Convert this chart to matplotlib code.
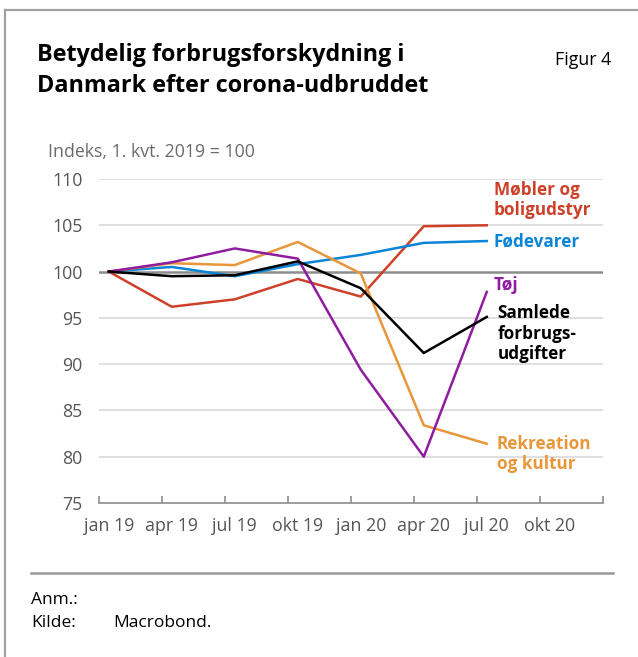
import matplotlib.pyplot as plt
from matplotlib.lines import Line2D

plt.rcParams["font.family"] = ["Open Sans", "DejaVu Sans"]

QUARTERS = ["jan 19", "apr 19", "jul 19", "okt 19", "jan 20", "apr 20", "jul 20", "okt 20"]

moebler = [100, 96.2, 97.0, 99.2, 97.3, 104.9, 105.0]
foedevarer = [100, 100.5, 99.5, 100.8, 101.8, 103.1, 103.3]
toej = [100, 101.0, 102.5, 101.4, 89.4, 80.0, 97.8]
rekreation = [100, 100.9, 100.7, 103.2, 99.8, 83.4, 81.4]
samlede = [100, 99.5, 99.6, 101.1, 98.2, 91.2, 95.1]

RED = "#cc4128"
BLUE = "#0a84d6"
PURPLE = "#8f1d9f"
ORANGE = "#e8963a"
BLACK = "#000000"

W, H = 638, 657
fig = plt.figure(figsize=(W / 100, H / 100), dpi=100)

# frame (left and top only)
fig.add_artist(Line2D([5 / W, 5 / W], [0, 1 - 10 / H], color="#a0a0a0", lw=1.6))
fig.add_artist(Line2D([5 / W, 1], [1 - 10 / H, 1 - 10 / H], color="#a0a0a0", lw=1.6))

fig.text(37 / W, 1 - 61 / H, "Betydelig forbrugsforskydning i", fontsize=16.8,
         fontweight="bold", va="baseline")
fig.text(37 / W, 1 - 92 / H, "Danmark efter corona-udbruddet", fontsize=16.8,
         fontweight="bold", va="baseline")
fig.text(555 / W, 1 - 65 / H, "Figur 4", fontsize=12.8, va="baseline")
fig.text(48 / W, 1 - 157 / H, "Indeks, 1. kvt. 2019 = 100", fontsize=12.8, color="#6b6b6b",
         va="baseline")

ax = fig.add_axes([99 / W, 1 - 503 / H, 504 / W, 324 / H])
x = list(range(len(moebler)))
off = 0.155

for yv in [80, 85, 90, 95, 105, 110]:
    ax.axhline(yv, color="#d9d9d9", lw=1.2, zorder=1)
ax.axhline(100, color="#8c8c8c", lw=1.8, zorder=1)

ax.plot(x, moebler, color=RED, lw=1.8, zorder=3)
ax.plot(x, foedevarer, color=BLUE, lw=1.8, zorder=3)
ax.plot(x, rekreation, color=ORANGE, lw=1.8, zorder=3)
ax.plot(x, toej, color=PURPLE, lw=1.8, zorder=3)
ax.plot(x, samlede, color=BLACK, lw=1.8, zorder=4)

ax.set_xlim(-off, len(QUARTERS) - off)
ax.set_ylim(75, 110)
ax.set_yticks([75, 80, 85, 90, 95, 100, 105, 110])
ax.tick_params(axis="y", length=0, pad=12, labelsize=12.8, labelcolor="#555555")

ax.set_xticks([k - off for k in range(len(QUARTERS) + 1)])
ax.set_xticklabels([])
ax.set_xticks(range(len(QUARTERS)), minor=True)
ax.set_xticklabels(QUARTERS, minor=True)
ax.tick_params(axis="x", which="major", direction="in", length=5, color="#8c8c8c", width=1.2)
ax.tick_params(axis="x", which="minor", length=0, pad=10, labelsize=12.8, labelcolor="#555555")

for s in ["top", "right", "left"]:
    ax.spines[s].set_visible(False)
ax.spines["bottom"].set_color("#8c8c8c")
ax.spines["bottom"].set_linewidth(1.2)

lx = 6.11
kw = dict(fontsize=12.3, fontweight="bold", va="center", linespacing=1.15)
ax.text(lx, 107.7, "Møbler og\nboligudstyr", color=RED, **kw)
ax.text(lx, 103.3, "Fødevarer", color=BLUE, **kw)
ax.text(lx, 98.6, "Tøj", color=PURPLE, **kw)
ax.text(lx + 0.06, 93.3, "Samlede\nforbrugs-\nudgifter", color=BLACK, **kw)
ax.text(lx + 0.05, 80.3, "Rekreation\nog kultur", color=ORANGE, **kw)

fig.add_artist(Line2D([31 / W, 613 / W], [1 - 573 / H, 1 - 573 / H], color="#999999", lw=1.8))
fig.text(31 / W, 1 - 604 / H, "Anm.:", fontsize=12.5, va="baseline")
fig.text(31 / W, 1 - 627 / H, "Kilde:", fontsize=12.5, va="baseline")
fig.text(113 / W, 1 - 627 / H, "Macrobond.", fontsize=12.5, va="baseline")

fig.savefig("out.png", dpi=100)
